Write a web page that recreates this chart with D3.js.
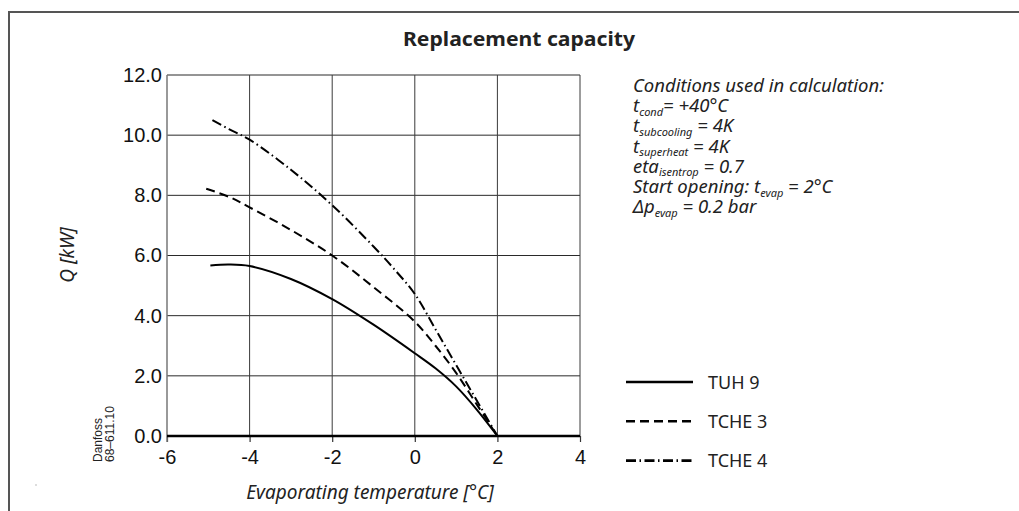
<!DOCTYPE html>
<html>
<head>
<meta charset="utf-8">
<script src="https://cdn.jsdelivr.net/npm/d3@7"></script>
<style>
  html, body { margin:0; padding:0; background:#fff; }
  svg { display:block; }
  .tick text { font-family: "Liberation Sans", Arial, sans-serif; fill:#111; }
  .ital { font-family: "Noto Sans", "Open Sans", sans-serif; font-style: italic; fill:#222; }
</style>
</head>
<body>
<svg id="chart" width="1019" height="511"></svg>
<script>
// --- data ---
const xTicks = [-6, -4, -2, 0, 2, 4];
const yTicks = [0, 2, 4, 6, 8, 10, 12];

const tuh9T  = [-4.95, -4.5, -4, -3, -2, -1, 0, 0.5, 1, 1.5, 2];
const tuh9Q  = [5.67, 5.7, 5.65, 5.22, 4.55, 3.7, 2.75, 2.25, 1.65, 0.88, 0];

const tche3T = [-5.05, -4.5, -4, -3, -2, -1, 0, 0.5, 1, 1.5, 2];
const tche3Q = [8.22, 7.95, 7.6, 6.85, 6.0, 4.95, 3.8, 3.0, 2.1, 1.05, 0];

const tche4T = [-4.9, -4.5, -4, -3, -2, -1, -0.5, 0, 0.5, 1, 1.5, 2];
const tche4Q = [10.5, 10.2, 9.85, 8.85, 7.67, 6.3, 5.55, 4.72, 3.55, 2.36, 1.18, 0];

const seriesNames = ['TUH 9', 'TCHE 3', 'TCHE 4'];

// --- setup ---
const svg = d3.select('#chart');
const x = d3.scaleLinear().domain([-6, 4]).range([167, 580]);
const y = d3.scaleLinear().domain([0, 12]).range([436, 75]);

// frame
svg.append('path')
  .attr('d', 'M9,511 V12 H1019')
  .attr('fill', 'none').attr('stroke', '#555').attr('stroke-width', 2);

// title
svg.append('text')
  .attr('x', 519).attr('y', 46)
  .attr('text-anchor', 'middle')
  .style('font-family', '"Noto Sans", "Open Sans", sans-serif')
  .style('font-weight', 700).style('font-size', '19px').style('fill', '#222')
  .attr('textLength', 232).attr('lengthAdjust', 'spacingAndGlyphs')
  .text('Replacement capacity');

// --- grid ---
const grid = svg.append('g');
grid.selectAll('line.h')
  .data(yTicks.filter(d => d > 0))
  .join('line').attr('class', 'h')
  .attr('x1', x(-6)).attr('x2', x(4))
  .attr('y1', d => y(d)).attr('y2', d => y(d))
  .attr('stroke', '#2a2a2a').attr('stroke-width', 1);
grid.selectAll('line.v')
  .data(xTicks.filter(d => d > -6))
  .join('line').attr('class', 'v')
  .attr('x1', d => x(d)).attr('x2', d => x(d))
  .attr('y1', y(12)).attr('y2', y(0))
  .attr('stroke', '#3a3a3a').attr('stroke-width', 1);

// --- axes ---
const xAxis = svg.append('g')
  .attr('transform', `translate(0,${y(0)})`)
  .call(d3.axisBottom(x).tickValues(xTicks).tickSize(6).tickPadding(8).tickFormat(d => String(d)));
xAxis.select('.domain').remove();
xAxis.selectAll('.tick line').attr('stroke', '#333').attr('stroke-width', 1.2);
xAxis.selectAll('.tick text').style('font-size', '20px');

const yAxis = svg.append('g')
  .attr('transform', `translate(${x(-6)},0)`)
  .call(d3.axisLeft(y).tickValues(yTicks).tickSize(0).tickPadding(5).tickFormat(d3.format('.1f')));
yAxis.select('.domain').remove();
yAxis.selectAll('.tick text').style('font-size', '20px');

// y axis line (gray) and thick baseline
svg.append('line')
  .attr('x1', x(-6)).attr('x2', x(-6)).attr('y1', y(12)).attr('y2', y(0) + 6)
  .attr('stroke', '#777').attr('stroke-width', 1.5);
svg.append('line')
  .attr('x1', x(-6)).attr('x2', x(4)).attr('y1', y(0)).attr('y2', y(0))
  .attr('stroke', '#000').attr('stroke-width', 2.6);

// --- curves ---
const line = d3.line().x(d => x(d[0])).y(d => y(d[1])).curve(d3.curveCatmullRom.alpha(0.5));
const styles = [null, '9,5', '10,3.5,1.5,3.5'];
const curves = [d3.zip(tuh9T, tuh9Q), d3.zip(tche3T, tche3Q), d3.zip(tche4T, tche4Q)];
svg.append('g').selectAll('path')
  .data(curves)
  .join('path')
  .attr('d', line)
  .attr('fill', 'none').attr('stroke', '#000').attr('stroke-width', 2)
  .attr('stroke-dasharray', (d, i) => styles[i]);

// --- axis titles ---
svg.append('text').attr('class', 'ital')
  .attr('transform', 'translate(74,255) rotate(-90)')
  .attr('text-anchor', 'middle').style('font-size', '19px')
  .text('Q [kW]');
svg.append('text').attr('class', 'ital')
  .attr('x', 370).attr('y', 499)
  .attr('text-anchor', 'middle').style('font-size', '19px')
  .text('Evaporating temperature [°C]');

// --- conditions note ---
const note = [
  [['Conditions used in calculation:', 0]],
  [['t', 0], ['cond', 1], ['= +40°C', 0]],
  [['t', 0], ['subcooling', 1], [' = 4K', 0]],
  [['t', 0], ['superheat', 1], [' = 4K', 0]],
  [['eta', 0], ['isentrop', 1], [' = 0.7', 0]],
  [['Start opening: t', 0], ['evap', 1], [' = 2°C', 0]],
  [['Δp', 0], ['evap', 1], [' = 0.2 bar', 0]]
];
const noteG = svg.append('g');
note.forEach((parts, i) => {
  const t = noteG.append('text').attr('class', 'ital')
    .attr('x', 633).attr('y', 92 + i * 20.2).style('font-size', '18.5px');
  let sub = false;
  parts.forEach(([s, isSub]) => {
    const ts = t.append('tspan').text(s);
    if (isSub && !sub) { ts.attr('dy', 3.5).style('font-size', '11px'); sub = true; }
    else if (!isSub && sub) { ts.attr('dy', -3.5); sub = false; }
  });
});

// --- legend ---
const legend = svg.append('g').selectAll('g')
  .data(seriesNames)
  .join('g')
  .attr('transform', (d, i) => `translate(626,${382 + i * 39.3})`);
legend.append('line')
  .attr('x1', 0).attr('x2', 67)
  .attr('stroke', '#000').attr('stroke-width', 2.6)
  .attr('stroke-dasharray', (d, i) => styles[i]);
legend.append('text')
  .attr('x', 82).attr('y', 6.5)
  .style('font-family', '"Noto Sans", "Open Sans", sans-serif')
  .style('font-size', '18px').style('fill', '#222')
  .text(d => d);

// --- drawing number ---
const dn = svg.append('text')
  .attr('transform', 'translate(102,462) rotate(-90)')
  .style('font-family', '"Liberation Sans", Arial, sans-serif')
  .style('font-size', '12px').style('fill', '#222');
dn.append('tspan').attr('x', 0).text('Danfoss');
dn.append('tspan').attr('x', 0).attr('dy', 12).text('68–611.10');

svg.append('rect').attr('x', 35.5).attr('y', 484.5).attr('width', 1).attr('height', 1).attr('fill', '#777');
</script>
</body>
</html>
